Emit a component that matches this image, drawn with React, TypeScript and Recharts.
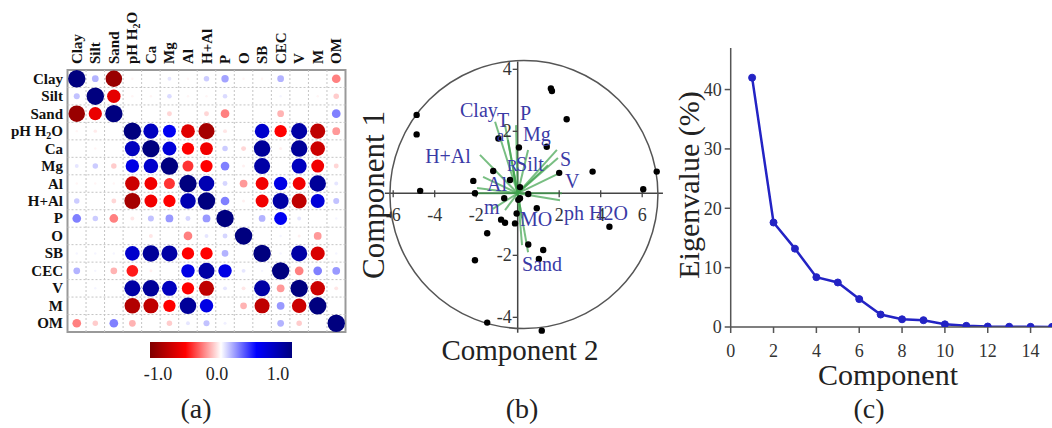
import React from 'react';
import {
  ScatterChart, Scatter, XAxis, YAxis, ReferenceLine, ReferenceDot, ReferenceArea,
  LineChart, Line,
} from 'recharts';

const FONT = '"Liberation Serif", "Times New Roman", serif';

// ---------- (a) correlation matrix ----------
const corrVars = ['Clay', 'Silt', 'Sand', 'pH H2O', 'Ca', 'Mg', 'Al', 'H+Al', 'P', 'O', 'SB', 'CEC', 'V', 'M', 'OM'];
const rClay = [1, 0.15, -0.9, -0.02, 0, 0.05, -0.02, 0.1, 0.18, -0.02, -0.02, 0.15, 0, 0, -0.25];
const rSilt = [0.12, 1, -0.6, -0.02, -0.02, 0.07, -0.02, -0.02, 0.07, 0, 0, 0.02, 0, -0.02, -0.1];
const rSand = [-0.9, -0.58, 1, 0, 0, -0.08, 0, -0.08, -0.25, 0, 0, -0.15, 0, 0, 0.25];
const rPH = [-0.02, -0.04, 0, 1, 0.75, 0.55, -0.62, -0.85, -0.05, 0, 0.7, -0.5, 0.85, -0.75, -0.2];
const rCa = [0, -0.02, 0, 0.75, 1, 0.65, -0.5, -0.55, 0.1, -0.08, 0.9, -0.03, 0.9, -0.7, 0];
const rMg = [0.05, 0.1, -0.1, 0.6, 0.7, 1, -0.4, -0.5, 0.25, -0.03, 0.85, 0, 0.75, -0.55, -0.08];
const rAl = [-0.02, -0.02, -0.02, -0.7, -0.55, -0.4, 1, 0.8, 0.08, -0.2, -0.55, 0.6, -0.55, 0.9, 0.05];
const rHAl = [0.1, 0, -0.08, -0.85, -0.55, -0.5, 0.8, 1, 0.25, -0.03, -0.55, 0.85, -0.75, 0.65, 0.12];
const rP = [0.25, 0.1, -0.25, -0.05, 0.12, 0.2, 0.08, 0.2, 1, 0, 0.15, 0.55, 0.05, 0, 0.02];
const rO = [0, 0, 0, 0, -0.05, 0, -0.25, 0.05, 0.08, 1, 0, 0.02, -0.03, -0.2, 0];
const rSB = [0.02, 0.02, 0.02, 0.7, 0.9, 0.85, -0.5, -0.5, 0.15, 0, 1, 0.02, 0.85, -0.65, 0.02];
const rCEC = [0.15, 0.02, -0.15, -0.45, -0.03, 0, 0.6, 0.85, 0.6, 0.05, 0.02, 1, -0.25, 0.25, 0.2];
const rV = [0, 0.02, 0, 0.85, 0.9, 0.75, -0.5, -0.75, 0.05, -0.05, 0.85, -0.2, 1, -0.7, -0.05];
const rM = [0, 0, 0, -0.8, -0.75, -0.5, 0.9, 0.6, 0, -0.15, -0.75, 0.2, -0.7, 1, 0];
const rOM = [-0.25, -0.1, 0.25, -0.15, 0, -0.1, 0.05, 0.12, 0.03, 0, 0, 0.15, -0.1, 0, 1];
const corrMatrix = [rClay, rSilt, rSand, rPH, rCa, rMg, rAl, rHAl, rP, rO, rSB, rCEC, rV, rM, rOM];
const colorbarTicks = ['-1.0', '0.0', '1.0'];

// ---------- (b) PCA biplot ----------
const pcaComp2 = [1.6, 1.65, -4.87, -4.87, 2.36, -0.93, 0.06, 1.4, -1.18, 2.0, 3.61, 6.7, -4.7, -2.14, -2.06, 6.05, -0.65, 0.03, 0.51, 0.92, -0.8, -0.61, -0.13, -1.47, 4.42, 0.51, 1.23, 1.02, -2.06, -1.47, 1.16, -0.05, 0.11, -0.37, 0.11];
const pcaComp1 = [3.38, 3.3, 2.53, 1.9, 2.39, 1.77, 1.48, 1.5, 0.72, 0.66, 0.7, 0.7, 0.08, 0.4, 0.0, 0.13, -0.16, -0.21, -0.02, -0.48, -0.85, -0.95, -0.97, -1.29, -1.08, -1.65, -1.83, -2.12, -2.16, -4.17, -4.43, -0.65, 0.2, 0.43, -0.16];
const loadX = [-1.09, -0.61, -0.08, -0.47, 0.5, -1.82, 1.89, 1.94, 2.04, 1.46, -0.23, -1.96, -1.67, 2.04, 2.13, -1.91, -0.61, 0.21, 0.5, 0.21, -1.2];
const loadY = [2.31, 2.2, 2.2, 1.72, 1.4, 1.24, 1.4, 1.14, 0.66, 0.91, 0.75, 0.17, 0.53, -0.22, 0, 0, -0.54, -0.8, -1.9, -1.67, -0.5];
const loadLabels = ['Clay', 'T', 'P', 'a', 'Mg', 'H+Al', 'R', 'Silt', 'S', 'V', 'Al', 'm', 'MO', 'ph H2O', 'Sand'];
const loadLabelX = [-2.78, -1.0, 0.11, -1.0, 0.26, -4.46, -0.52, -0.08, 2.04, 2.28, -1.48, -1.62, 0.11, 2.23, 0.21];
const loadLabelY = [2.46, 2.14, 2.37, 1.69, 1.69, 0.98, 0.72, 0.72, 0.88, 0.17, 0.07, -0.67, -1.05, -0.86, -2.5];
const bXTicks = [-6, -4, -2, 2, 4, 6];
const bYTicks = [-4, -2, 2, 4];

// ---------- (c) scree plot ----------
const components = [1, 2, 3, 4, 5, 6, 7, 8, 9, 10, 11, 12, 13, 14, 15];
const eigenPct = [42.0, 17.6, 13.2, 8.4, 7.5, 4.7, 2.1, 1.3, 1.15, 0.45, 0.2, 0.08, 0.05, 0.03, 0.02];
const cXTicks = [0, 2, 4, 6, 8, 10, 12, 14];
const cYTicks = [0, 10, 20, 30, 40];

// ---------- helpers ----------
const stops: [number, number[]][] = [
  [-1, [127, 0, 0]], [-0.5, [255, 0, 0]], [0, [255, 255, 255]], [0.5, [0, 0, 255]], [1, [0, 0, 127]],
];
function corrColor(v: number) {
  for (let i = 0; i < stops.length - 1; i++) {
    const [a, ca] = stops[i];
    const [b, cb] = stops[i + 1];
    if (v >= a && v <= b) {
      const t = (v - a) / (b - a);
      const c = ca.map((x, k) => Math.round(x + (cb[k] - x) * t));
      return `rgb(${c[0]},${c[1]},${c[2]})`;
    }
  }
  return '#fff';
}

const corrData = corrMatrix.flatMap((row, i) => row.map((v, j) => ({ x: j + 1, y: i + 1, r: v })));
const cellIdx = corrVars.map((_, i) => i + 1);
const innerEdges = cellIdx.slice(0, -1).map((i) => i + 0.5);

const CorrCircle = (props: any) => {
  const { cx, cy, payload } = props;
  if (cx == null || cy == null) return null;
  const rad = 8.7 * Math.sqrt(Math.abs(payload.r));
  return <circle cx={cx} cy={cy} r={rad} fill={corrColor(payload.r)} />;
};

function varText(name: string) {
  if (name === 'pH H2O') {
    return (
      <>
        pH H<tspan dy={3} fontSize={10}>2</tspan><tspan dy={-3}>O</tspan>
      </>
    );
  }
  return name;
}

const ColTick = (props: any) => {
  const { x, payload } = props;
  const name = corrVars[payload.value - 1];
  return (
    <text x={x + 5} y={64} transform={`rotate(-90 ${x + 5} 64)`} textAnchor="start"
      fontFamily={FONT} fontWeight="bold" fontSize={15} fill="#111">
      {varText(name)}
    </text>
  );
};
const RowTick = (props: any) => {
  const { y, payload } = props;
  const name = corrVars[payload.value - 1];
  return (
    <text x={63} y={y + 5} textAnchor="end" fontFamily={FONT} fontWeight="bold" fontSize={15} fill="#111">
      {varText(name)}
    </text>
  );
};

const pcaData = pcaComp2.map((x, i) => ({ x, y: pcaComp1[i] }));
const loadings = loadX.map((x, i) => ({ x, y: loadY[i] }));
const loadLabelData = loadLabels.map((name, i) => ({ name, x: loadLabelX[i], y: loadLabelY[i] }));
const screeData = components.map((c, i) => ({ c, v: eigenPct[i] }));

const BLUE_TXT = '#3a3aa6';

function makeXTick(t: number) {
  return (p: any) => (
    <g>
      <line x1={p.cx} x2={p.cx} y1={p.cy - 3} y2={p.cy + 4} stroke="#444" strokeWidth={1.3} />
      <text x={p.cx} y={p.cy + 28} textAnchor="middle" fontFamily={FONT} fontSize={18} fill="#333">{t}</text>
    </g>
  );
}
function makeYTick(t: number) {
  return (p: any) => (
    <g>
      <line x1={p.cx - 5} x2={p.cx} y1={p.cy} y2={p.cy} stroke="#444" strokeWidth={1.3} />
      <text x={p.cx - 6} y={p.cy + 6} textAnchor="end" fontFamily={FONT} fontSize={18} fill="#333">{t}</text>
    </g>
  );
}
function makeLabel(name: string) {
  return (p: any) => (
    <text x={p.cx} y={p.cy} textAnchor="start" fontFamily={FONT} fontSize={name === 'a' || name === 'R' ? 16 : 20} fill={BLUE_TXT}>{name}</text>
  );
}

export default function App() {
  return (
    <div style={{ position: 'absolute', left: 0, top: 0, width: 1052, height: 428, background: '#fff', overflow: 'hidden' }}>
      {/* (a) */}
      <div style={{ position: 'absolute', left: 0, top: 0 }}>
        <ScatterChart width={360} height={340} margin={{ top: 8, left: 5.5, right: 14.5, bottom: 8 }}>
          <XAxis type="number" dataKey="x" orientation="top" domain={[0.5, 15.5]} ticks={cellIdx}
            allowDataOverflow height={62} axisLine={false} tickLine={false} tick={<ColTick />} interval={0} />
          <YAxis type="number" dataKey="y" domain={[0.5, 15.5]} ticks={cellIdx} reversed
            allowDataOverflow width={62} axisLine={false} tickLine={false} tick={<RowTick />} interval={0} />
          {innerEdges.map((e) => (
            <ReferenceLine key={'vx' + e} x={e} stroke="#c4c4c4" strokeDasharray="2 2" />
          ))}
          {innerEdges.map((e) => (
            <ReferenceLine key={'hy' + e} y={e} stroke="#c4c4c4" strokeDasharray="2 2" />
          ))}
          <ReferenceArea x1={0.5} x2={15.5} y1={0.5} y2={15.5} fill="none" fillOpacity={0} stroke="#999" strokeWidth={2} />
          <Scatter data={corrData} dataKey="y" shape={CorrCircle} isAnimationActive={false} />
        </ScatterChart>
      </div>

      {/* (b) */}
      <div style={{ position: 'absolute', left: 370, top: 40 }}>
        <ScatterChart width={310} height={310} margin={{ top: 18, right: 15, bottom: 15, left: 10 }}>
          <XAxis type="number" dataKey="x" domain={[-6.636, 7.099]} allowDataOverflow hide />
          <YAxis type="number" dataKey="y" domain={[-4.57, 4.365]} allowDataOverflow hide />
          <ReferenceDot x={0.3} y={-0.04} r={134} fill="none" stroke="#555" strokeWidth={1.5} ifOverflow="visible" />
          <ReferenceLine segment={[{ x: 0, y: 4.25 }, { x: 0, y: -4.5 }]} stroke="#444" strokeWidth={1.5} ifOverflow="visible" />
          <ReferenceLine segment={[{ x: -6.4, y: 0 }, { x: 7.0, y: 0 }]} stroke="#444" strokeWidth={1.5} ifOverflow="visible" />
          {bXTicks.map((t) => (
            <ReferenceDot key={'bx' + t} x={t} y={0} r={0} shape={makeXTick(t)} ifOverflow="visible" />
          ))}
          {bYTicks.map((t) => (
            <ReferenceDot key={'by' + t} x={0} y={t} r={0} shape={makeYTick(t)} ifOverflow="visible" />
          ))}
          {loadings.map((l, i) => (
            <ReferenceLine key={'ld' + i} segment={[{ x: 0, y: 0 }, { x: l.x, y: l.y }]}
              stroke="#3fa34d" strokeOpacity={0.7} strokeWidth={2} ifOverflow="visible" />
          ))}
          <Scatter data={pcaData} dataKey="y" fill="#000" isAnimationActive={false}
            shape={(p: any) => <circle cx={p.cx} cy={p.cy} r={3.2} fill="#000" />} />
          {loadLabelData.map((l, i) => (
            <ReferenceDot key={'ll' + i} x={l.x} y={l.y} r={0} shape={makeLabel(l.name)} ifOverflow="visible" />
          ))}
        </ScatterChart>
      </div>

      {/* (c) */}
      <div style={{ position: 'absolute', left: 640, top: 0 }}>
        <LineChart width={412} height={428} data={screeData} margin={{ top: 48, right: 0, bottom: 61, left: 30.7 }}>
          <XAxis type="number" dataKey="c" domain={[0, 15]} ticks={cXTicks} allowDataOverflow height={40}
            axisLine={{ stroke: '#555', strokeWidth: 1.5 }} tickLine={{ stroke: '#555', strokeWidth: 1.5 }}
            tickSize={6} tickMargin={11} interval={0}
            tick={{ fontFamily: FONT, fontSize: 18, fill: '#333' }} />
          <YAxis type="number" domain={[0, 47]} ticks={cYTicks} allowDataOverflow width={60}
            axisLine={{ stroke: '#555', strokeWidth: 1.5 }} tickLine={{ stroke: '#555', strokeWidth: 1.5 }}
            tickSize={6} tickMargin={3} interval={0}
            tick={{ fontFamily: FONT, fontSize: 18, fill: '#333' }} />
          <Line type="linear" dataKey="v" stroke="#2323c4" strokeWidth={2.5} isAnimationActive={false}
            dot={{ r: 3.5, fill: '#2323c4', stroke: '#2323c4', strokeWidth: 1 }} />
        </LineChart>
      </div>

      {/* titles, colorbar and panel letters */}
      <svg width={1052} height={428} style={{ position: 'absolute', left: 0, top: 0, pointerEvents: 'none' }}>
        <defs>
          <linearGradient id="cbar" x1="0" x2="1" y1="0" y2="0">
            <stop offset="0%" stopColor="rgb(127,0,0)" />
            <stop offset="25%" stopColor="rgb(255,0,0)" />
            <stop offset="50%" stopColor="rgb(255,255,255)" />
            <stop offset="75%" stopColor="rgb(0,0,255)" />
            <stop offset="100%" stopColor="rgb(0,0,127)" />
          </linearGradient>
        </defs>
        <rect x={150} y={342} width={142} height={16} fill="url(#cbar)" />
        {colorbarTicks.map((t, i) => (
          <text key={t} x={[158, 217, 278][i]} y={380} textAnchor="middle" fontFamily={FONT} fontSize={18} fill="#222">{t}</text>
        ))}
        <text x={196} y={418} textAnchor="middle" fontFamily={FONT} fontSize={28} fill="#222">(a)</text>
        <text x={522} y={418} textAnchor="middle" fontFamily={FONT} fontSize={28} fill="#222">(b)</text>
        <text x={869} y={418} textAnchor="middle" fontFamily={FONT} fontSize={28} fill="#222">(c)</text>
        <text x={384} y={195} transform="rotate(-90 384 195)" textAnchor="middle" fontFamily={FONT} fontSize={31} fill="#222">Component 1</text>
        <text x={520} y={360} textAnchor="middle" fontFamily={FONT} fontSize={29} fill="#222">Component 2</text>
        <text x={699} y={185} transform="rotate(-90 699 185)" textAnchor="middle" fontFamily={FONT} fontSize={30} fill="#222">Eigenvalue (%)</text>
        <text x={888} y={385} textAnchor="middle" fontFamily={FONT} fontSize={30} fill="#222">Component</text>
      </svg>
    </div>
  );
}
